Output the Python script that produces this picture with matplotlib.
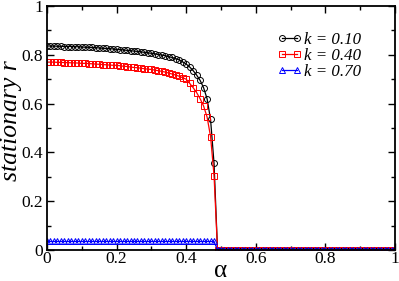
"""Stationary r versus alpha for three values of k."""

import matplotlib

matplotlib.use("Agg")
import matplotlib.pyplot as plt
from matplotlib.ticker import MultipleLocator

alpha = [i / 100 for i in range(101)]

r_k010 = [
    0.836, 0.836, 0.836, 0.835, 0.835, 0.834, 0.834, 0.834, 0.833, 0.833,
    0.832, 0.831, 0.831, 0.830, 0.829, 0.828, 0.827, 0.826, 0.825, 0.824,
    0.822, 0.821, 0.820, 0.818, 0.817, 0.815, 0.814, 0.812, 0.810, 0.808,
    0.806, 0.804, 0.801, 0.799, 0.796, 0.792, 0.789, 0.784, 0.779, 0.771,
    0.762, 0.750, 0.735, 0.717, 0.695, 0.665, 0.620, 0.535, 0.355,
] + [0.0] * 52

r_k040 = [
    0.770, 0.770, 0.770, 0.769, 0.769, 0.768, 0.768, 0.767, 0.767, 0.766,
    0.765, 0.765, 0.764, 0.763, 0.762, 0.761, 0.760, 0.759, 0.758, 0.757,
    0.757, 0.755, 0.753, 0.752, 0.750, 0.748, 0.747, 0.745, 0.743, 0.741,
    0.740, 0.737, 0.735, 0.732, 0.729, 0.725, 0.721, 0.717, 0.712, 0.706,
    0.700, 0.683, 0.665, 0.645, 0.620, 0.590, 0.545, 0.465, 0.305,
] + [0.0] * 52

r_k070 = [0.035] * 49 + [0.0] * 52

labels = ["k = 0.10", "k = 0.40", "k = 0.70"]
ticklab = ["0", "0.2", "0.4", "0.6", "0.8", "1"]

serif = ["Liberation Serif", "DejaVu Serif"]
plt.rcParams["font.family"] = serif

W, H = 399, 281
fig = plt.figure(figsize=(W / 100, H / 100), dpi=100)
# axes box in pixels: x 47..395, y 6..250
ax = fig.add_axes([47 / W, 1 - 250 / H, 348 / W, 244 / H])

styles = [
    dict(color="black", marker="o", ms=4.3),
    dict(color="red", marker="s", ms=3.9),
    dict(color="blue", marker="^", ms=4.3),
]
for r, lab, st in zip([r_k010, r_k040, r_k070], labels, styles):
    ax.plot(alpha, r, color=st["color"], marker=st["marker"], ms=st["ms"],
            mfc="none", mec=st["color"], mew=0.7, lw=0.9, label=lab)

ax.set_xlim(0, 1)
ax.set_ylim(0, 1)
ax.set_xticks([0, 0.2, 0.4, 0.6, 0.8, 1.0])
ax.set_xticklabels(ticklab)
ax.set_yticks([0, 0.2, 0.4, 0.6, 0.8, 1.0])
ax.set_yticklabels(ticklab)
ax.xaxis.set_minor_locator(MultipleLocator(0.1))
ax.yaxis.set_minor_locator(MultipleLocator(0.1))
ax.tick_params(which="both", direction="in", top=True, right=True,
               labelsize=12.5, width=1.0)
ax.tick_params(which="major", length=5)
ax.tick_params(which="minor", length=3)
ax.tick_params(axis="x", pad=0.5)
ax.tick_params(axis="y", pad=3)
for sp in ax.spines.values():
    sp.set_linewidth(1.3)

ax.set_xlabel("α", fontsize=18, va="baseline")
ax.xaxis.set_label_coords(0.5, (250 - 277) / 244)
ax.set_ylabel("stationary r", fontsize=18.5, style="italic", va="center")
ax.yaxis.set_label_coords((11 - 47) / 348, (250 - 121) / 244)

ax.legend(loc="upper left", bbox_to_anchor=(277 / W, 1 - 32 / H),
          bbox_transform=fig.transFigure, frameon=False,
          numpoints=2, handlelength=1.47, handletextpad=0.15,
          labelspacing=0.0, borderaxespad=0, borderpad=0,
          prop=dict(family=serif, style="italic", size=12.2))

fig.savefig("out.png", dpi=100)
